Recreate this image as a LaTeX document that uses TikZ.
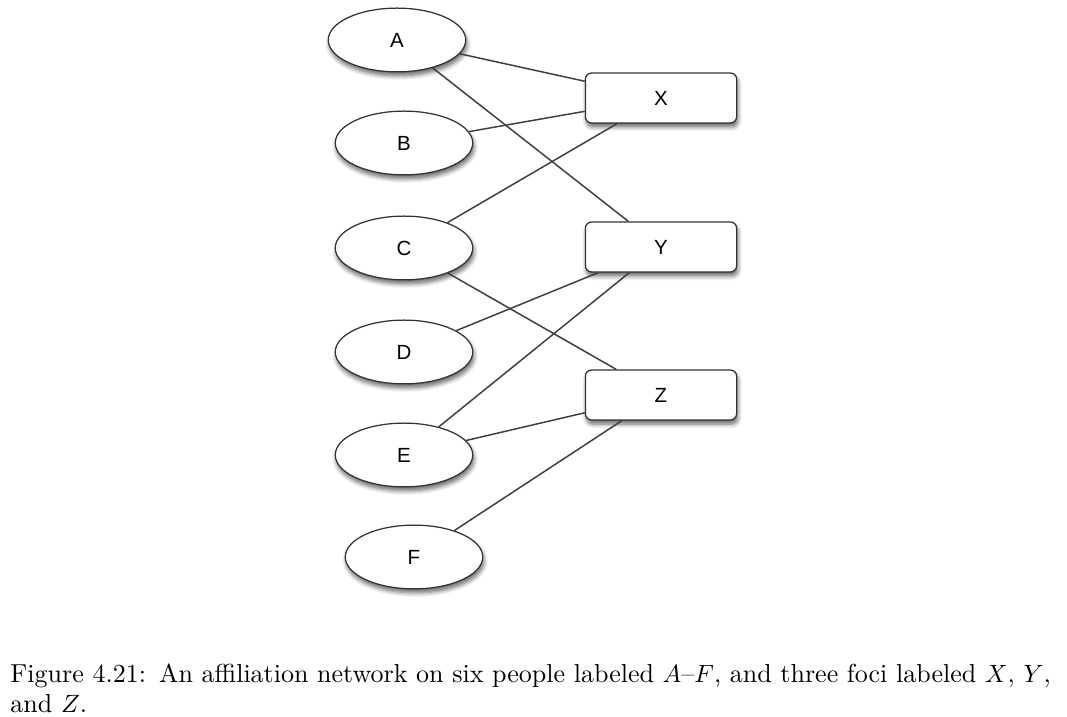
\documentclass[tikz,border=0pt]{standalone}
\usepackage{amsmath}
\usepackage{fontspec}
\newfontfamily\netfont{Liberation Sans}
\usepackage{tikz}
\usetikzlibrary{shapes.geometric,shadows.blur}
\tikzset{
  person/.style={ellipse, draw=black!80, line width=0.5pt, fill=white, minimum width=55pt, minimum height=25.5pt, inner sep=0pt, font=\netfont\fontsize{8.2}{10}\selectfont, blur shadow={shadow xshift=0.5pt, shadow yshift=-1.6pt, shadow blur steps=6, shadow opacity=60}},
  focus/.style={rectangle, rounded corners=2.5pt, draw=black!80, line width=0.5pt, fill=white, minimum width=60.5pt, minimum height=20pt, inner sep=0pt, font=\netfont\fontsize{8.2}{10}\selectfont, blur shadow={shadow xshift=0.5pt, shadow yshift=-1.6pt, shadow blur steps=6, shadow opacity=60}},
  tie/.style={draw=black!75, line width=0.6pt}
}
\newcommand{\netperson}[2] {\node at (#1) (#2) [person] {#2};}
\newcommand{\netfocus}[2] {\node at (#1) (#2) [focus] {#2};}
\newcommand{\nettie}[2] {\draw [tie] (#1) -- (#2);}

\begin{document}
\begin{tikzpicture}[x=0.4pt,y=-0.4pt]
\useasboundingbox (0,0) rectangle (1067,717);

% people on the left, foci on the right
\netperson {397,40} {A};
\netperson {404,143} {B};
\netperson {404,248} {C};
\netperson {404,352} {D};
\netperson {404,455} {E};
\netperson {414,557} {F};

\netfocus {661,98} {X};
\netfocus {661,247} {Y};
\netfocus {661,395} {Z};

\nettie{A}{X};
\nettie{A}{Y};
\nettie{B}{X};
\nettie{C}{X};
\nettie{C}{Z};
\nettie{D}{Y};
\nettie{E}{Y};
\nettie{E}{Z};
\nettie{F}{Z};

\node (caption) at (10,663) [anchor=north west, inner sep=0pt, text width=430pt, align=left, font=\fontsize{10.4}{12.2}\selectfont]
  {Figure 4.21: An affiliation network on six people labeled $A$--$F$, and three foci labeled $X$, $Y$,\\ and $Z$.};
\end{tikzpicture}
\end{document}
